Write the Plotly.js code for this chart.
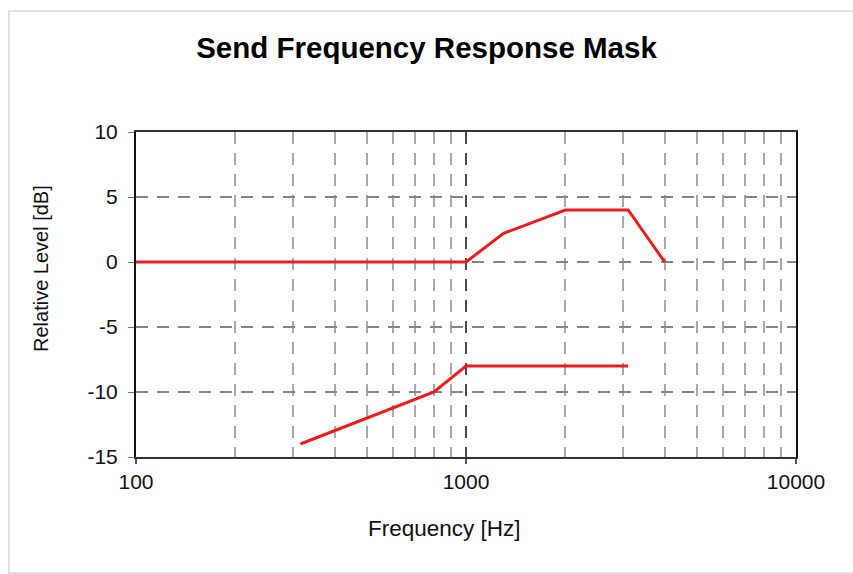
<!DOCTYPE html>
<html>
<head>
<meta charset="utf-8">
<script src="https://cdn.plot.ly/plotly-3.0.1.min.js"></script>
<style>
  html, body { margin: 0; padding: 0; background: #ffffff; }
  #wrap { position: relative; width: 853px; height: 574px; overflow: hidden; }
  #chart { position: absolute; left: 0; top: 0; width: 853px; height: 574px; }
  #frame { position: absolute; left: 8px; top: 10px; width: 900px; height: 560px;
           border: 2px solid #e2e2e2; pointer-events: none; }
</style>
</head>
<body>
<div id="wrap">
  <div id="chart"></div>
  <div id="frame"></div>
</div>
<script>
// ---- data ----
const upperFreq  = [100, 1000, 1300, 2000, 3100, 4000];
const upperLevel = [0,   0,    2.2,  4,    4,    0];
const lowerFreq  = [315, 800, 1000, 3100];
const lowerLevel = [-14, -10, -8,   -8];

const xTickVals  = [100, 1000, 10000];
const xTickText  = ['100', '1000', '10000'];
const xMinorVals = [200, 300, 400, 500, 600, 700, 800, 900,
                    2000, 3000, 4000, 5000, 6000, 7000, 8000, 9000];
const yTickVals  = [-15, -10, -5, 0, 5, 10];
const yTickText  = ['-15', '-10', '-5', '0', '5', '10'];

const titleText  = 'Send Frequency Response Mask';
const xTitleText = 'Frequency [Hz]';
const yTitleText = 'Relative Level [dB]';

const FONT = '"Liberation Sans", Arial, sans-serif';
const RED = '#ee1c1c';

const traces = [
  { x: upperFreq, y: upperLevel, type: 'scatter', mode: 'lines',
    line: { color: RED, width: 3 }, hoverinfo: 'skip' },
  { x: lowerFreq, y: lowerLevel, type: 'scatter', mode: 'lines',
    line: { color: RED, width: 3 }, hoverinfo: 'skip' }
];

const layout = {
  width: 853, height: 574,
  margin: { l: 136, r: 57, t: 132, b: 117 },
  paper_bgcolor: '#ffffff', plot_bgcolor: '#ffffff',
  showlegend: false,
  font: { family: FONT, color: '#111111', size: 21 },
  title: {
    text: '<b>' + titleText + '</b>',
    font: { family: FONT, size: 29.5, color: '#000000' },
    xref: 'container', x: 0.5, xanchor: 'center',
    yref: 'container', y: 1 - 48 / 574, yanchor: 'middle'
  },
  xaxis: {
    type: 'log', range: [2, 4],
    tickmode: 'array', tickvals: xTickVals, ticktext: xTickText,
    ticks: 'outside', ticklen: 5, tickwidth: 1.5, tickcolor: '#555555',
    tickfont: { family: FONT, size: 21, color: '#111111' },
    ticklabelstandoff: 0,
    showgrid: true, gridcolor: '#4a4a4a', gridwidth: 2, griddash: '12px,9px',
    minor: { tickmode: 'array', tickvals: xMinorVals, ticks: '',
             showgrid: true, gridcolor: '#a9a9a9', gridwidth: 2, griddash: '12px,9px' },
    showline: true, mirror: true, linecolor: '#333333', linewidth: 2,
    zeroline: false, fixedrange: true
  },
  yaxis: {
    range: [-15, 10],
    tickmode: 'array', tickvals: yTickVals, ticktext: yTickText,
    ticks: 'outside', ticklen: 6, tickwidth: 1, tickcolor: '#777777',
    tickfont: { family: FONT, size: 21, color: '#111111' },
    ticklabelstandoff: 6,
    showgrid: true, gridcolor: '#858585', gridwidth: 2, griddash: '12px,9px',
    showline: true, mirror: true, linecolor: '#111111', linewidth: 2,
    zeroline: false, fixedrange: true
  },
  annotations: [
    { text: xTitleText, xref: 'paper', yref: 'paper',
      x: (444 - 136) / 660, y: -(528 - 457) / 325,
      xanchor: 'center', yanchor: 'middle', showarrow: false,
      font: { family: FONT, size: 22.5, color: '#111111' } },
    { text: yTitleText, xref: 'paper', yref: 'paper', textangle: -90,
      x: (41 - 136) / 660, y: (457 - 268) / 325,
      xanchor: 'center', yanchor: 'middle', showarrow: false,
      font: { family: FONT, size: 20, color: '#111111' } }
  ]
};

Plotly.newPlot('chart', traces, layout, { staticPlot: true, displayModeBar: false });
</script>
</body>
</html>
